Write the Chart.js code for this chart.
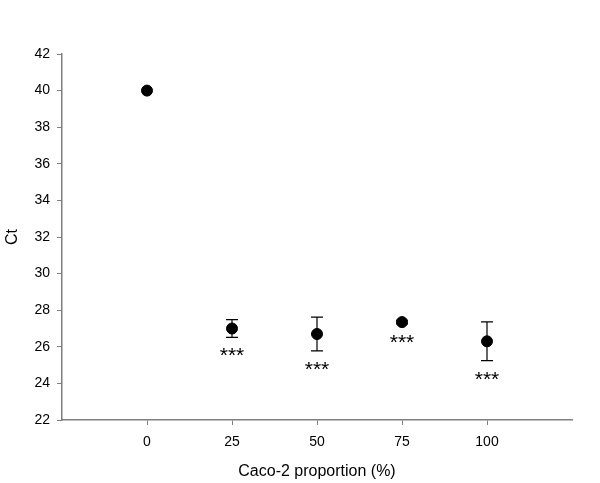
<!DOCTYPE html>
<html>
<head>
<meta charset="utf-8">
<script src="https://cdn.jsdelivr.net/npm/chart.js@4/dist/chart.umd.min.js"></script>
<style>
  html, body { margin: 0; padding: 0; background: #fff; }
  #wrap { width: 600px; height: 483px; position: relative; }
</style>
</head>
<body>
<div id="wrap"><canvas id="c"></canvas></div>
<script>
// ---- data ----
const proportions = [0, 25, 50, 75, 100];
const ctMeans = [40.0, 27.0, 26.7, 27.35, 26.3];
const ctErrors = [0, 0.48, 0.92, 0.1, 1.06];
const significance = ['', '***', '***', '***', '***'];
const xTickValues = [0, 25, 50, 75, 100];
const yTickValues = [22, 24, 26, 28, 30, 32, 34, 36, 38, 40, 42];
const xAxisTitle = 'Caco-2 proportion (%)';
const yAxisTitle = 'Ct';

const FONT = 'Liberation Sans, Arial, sans-serif';
const AXIS_COLOR = '#7f7f7f';

const points = proportions.map((p, i) => ({ x: p, y: ctMeans[i] }));

const errorBarPlugin = {
  id: 'errorBars',
  beforeDatasetsDraw(chart) {
    const { ctx, scales: { x, y } } = chart;
    ctx.save();
    ctx.strokeStyle = '#000';
    ctx.lineWidth = 1.2;
    proportions.forEach((p, i) => {
      const e = ctErrors[i];
      if (!e) return;
      const px = x.getPixelForValue(p);
      const top = y.getPixelForValue(ctMeans[i] + e);
      const bot = y.getPixelForValue(ctMeans[i] - e);
      const cap = 6;
      ctx.beginPath();
      ctx.moveTo(px, top); ctx.lineTo(px, bot);
      ctx.moveTo(px - cap, top); ctx.lineTo(px + cap, top);
      ctx.moveTo(px - cap, bot); ctx.lineTo(px + cap, bot);
      ctx.stroke();
    });
    ctx.restore();
  },
  afterDatasetsDraw(chart) {
    const { ctx, scales: { x, y } } = chart;
    ctx.save();
    ctx.fillStyle = '#000';
    ctx.font = '21px ' + FONT;
    ctx.textAlign = 'center';
    ctx.textBaseline = 'alphabetic';
    proportions.forEach((p, i) => {
      const s = significance[i];
      if (!s) return;
      const px = x.getPixelForValue(p);
      const bot = y.getPixelForValue(ctMeans[i] - ctErrors[i]);
      const centerY = bot + 13;
      ctx.fillText(s, px, centerY + 0.57 * 21);
    });
    ctx.restore();
  }
};

new Chart(document.getElementById('c'), {
  type: 'scatter',
  data: {
    datasets: [{
      data: points,
      backgroundColor: '#000',
      borderColor: '#000',
      pointRadius: 5.5,
      pointHoverRadius: 5.5,
      showLine: false
    }]
  },
  options: {
    responsive: true,
    maintainAspectRatio: false,
    animation: false,
    events: [],
    layout: { padding: { left: 0, top: 54, right: 28, bottom: 0 } },
    plugins: { legend: { display: false }, tooltip: { enabled: false } },
    scales: {
      x: {
        type: 'linear',
        min: -25,
        max: 125,
        afterBuildTicks: s => { s.ticks = xTickValues.map(v => ({ value: v })); },
        afterFit: s => { s.height = 63; },
        border: { color: AXIS_COLOR, width: 1.5 },
        grid: { drawOnChartArea: false, drawTicks: true, tickLength: 5, color: AXIS_COLOR, tickWidth: 1 },
        ticks: { color: '#000', font: { family: FONT, size: 14 }, padding: 9, maxRotation: 0 },
        title: { display: true, text: xAxisTitle, color: '#000', font: { family: FONT, size: 16 }, padding: { top: 0, bottom: 2 } }
      },
      y: {
        min: 22,
        max: 42,
        afterBuildTicks: s => { s.ticks = yTickValues.map(v => ({ value: v })); },
        afterFit: s => { s.width = 62; },
        border: { color: AXIS_COLOR, width: 1.5 },
        grid: { drawOnChartArea: false, drawTicks: true, tickLength: 5, color: AXIS_COLOR, tickWidth: 1 },
        ticks: { color: '#000', font: { family: FONT, size: 14 }, padding: 7 },
        title: { display: true, text: yAxisTitle, color: '#000', font: { family: FONT, size: 16 }, padding: { top: 3, bottom: 0 } }
      }
    }
  },
  plugins: [errorBarPlugin]
});
</script>
</body>
</html>
